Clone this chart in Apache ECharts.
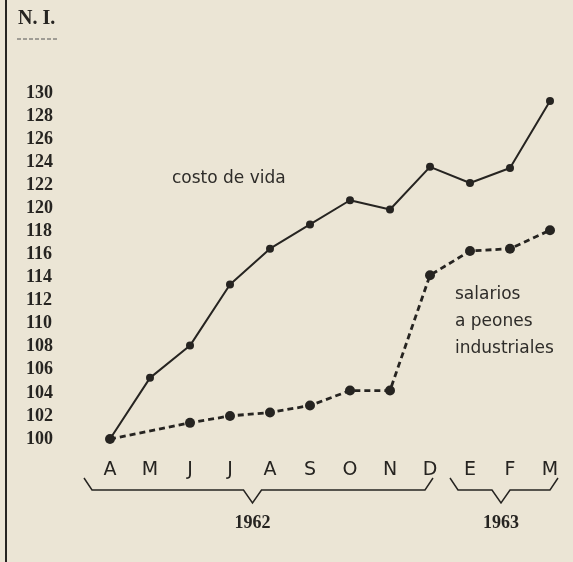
<!DOCTYPE html>
<html>
<head>
<meta charset="utf-8">
<script src="https://cdn.jsdelivr.net/npm/echarts@6/dist/echarts.min.js"></script>
<style>
  html, body { margin: 0; padding: 0; background: #ebe5d5; }
  #chart { width: 573px; height: 562px; }
</style>
</head>
<body>
<div id="chart"></div>
<script>
// ---- data ----
const months = ['A', 'M', 'J', 'J', 'A', 'S', 'O', 'N', 'D', 'E', 'F', 'M'];
const costoVida = [100, 105.3, 108.1, 113.4, 116.5, 118.6, 120.7, 119.9, 123.6, 122.2, 123.5, 129.3];
const salarios = [100, null, 101.4, 102.0, 102.3, 102.9, 104.2, 104.2, 114.2, 116.3, 116.5, 118.1];
const yTicks = [100, 102, 104, 106, 108, 110, 112, 114, 116, 118, 120, 122, 124, 126, 128, 130];
const years = [{ label: '1962', from: 0, to: 8 }, { label: '1963', from: 9, to: 11 }];
const unitLabel = 'N. I.';

const ink = '#262421';
const sansFont = '"DejaVu Sans", sans-serif';
const serifFont = '"Liberation Serif", serif';

// salarios has no reading for May: pass only the months that have a value
const salariosPairs = [];
salarios.forEach(function (v, i) { if (v !== null) salariosPairs.push([i, v]); });

const chart = echarts.init(document.getElementById('chart'), null, { renderer: 'canvas' });

const option = {
  backgroundColor: '#ebe5d5',
  animation: false,
  grid: { left: 110, top: 93, width: 440, height: 346, containLabel: false },
  xAxis: {
    type: 'category',
    data: months,
    boundaryGap: false,
    axisLine: { show: false },
    axisTick: { show: false },
    splitLine: { show: false },
    axisLabel: {
      color: ink, fontFamily: sansFont, fontSize: 19, margin: 22, interval: 0
    }
  },
  yAxis: {
    type: 'value',
    min: yTicks[0],
    max: yTicks[yTicks.length - 1],
    interval: 2,
    axisLine: { show: false },
    axisTick: { show: false },
    splitLine: { show: false },
    axisLabel: {
      color: ink, fontFamily: serifFont, fontWeight: 'bold', fontSize: 18,
      align: 'left', margin: 84
    }
  },
  series: [
    {
      name: 'costo de vida',
      type: 'line',
      data: costoVida,
      clip: false,
      symbol: 'circle',
      symbolSize: 8,
      itemStyle: { color: ink },
      lineStyle: { color: ink, width: 2 },
      z: 3
    },
    {
      name: 'salarios a peones industriales',
      type: 'line',
      data: salariosPairs,
      clip: false,
      symbol: 'circle',
      symbolSize: 10,
      itemStyle: { color: ink },
      lineStyle: { color: ink, width: 2.8, type: [6, 4], cap: 'butt' },
      z: 3
    }
  ]
};
chart.setOption(option);

// ---- decorations (braces, labels) ----
function px(i) { return chart.convertToPixel({ xAxisIndex: 0 }, i); }
const graphics = [
  { type: 'line', shape: { x1: 6, y1: 0, x2: 6, y2: 562 }, style: { stroke: ink, lineWidth: 2 } },
  { type: 'text', left: 18, top: 9, style: { text: unitLabel, fill: ink, font: 'bold 20px "Liberation Serif", serif' } },
  { type: 'line', shape: { x1: 17, y1: 39, x2: 57, y2: 39 }, style: { stroke: '#555', lineWidth: 1, lineDash: [4, 2] } },
  { type: 'text', left: 172, top: 170, style: { text: 'costo de vida', fill: '#2e2c29', font: '17px "DejaVu Sans", sans-serif' } },
  { type: 'text', left: 455, top: 281, style: { text: 'salarios\na peones\nindustriales', fill: '#2e2c29', font: '17px "DejaVu Sans", sans-serif', lineHeight: 27 } }
];
const yTop = 478, yMid = 490, yTip = 503;
years.forEach(function (y, k) {
  const left = k === 0 ? px(y.from) - 26 : px(y.from) - 20;
  const right = k === 0 ? px(y.to) + 3 : px(y.to) + 8;
  const tip = (left + right) / 2 - (k === 0 ? 6 : 3);
  graphics.push({
    type: 'polyline',
    shape: { points: [[left, yTop], [left + 8, yMid], [tip - 9, yMid], [tip, yTip], [tip + 9, yMid], [right - 8, yMid], [right, yTop]] },
    style: { stroke: ink, lineWidth: 1.5, fill: null }
  });
  graphics.push({
    type: 'text', x: tip, y: 523,
    style: { text: y.label, fill: ink, font: 'bold 18px "Liberation Serif", serif', align: 'center', verticalAlign: 'middle' }
  });
});
chart.setOption({ graphic: graphics });
</script>
</body>
</html>
